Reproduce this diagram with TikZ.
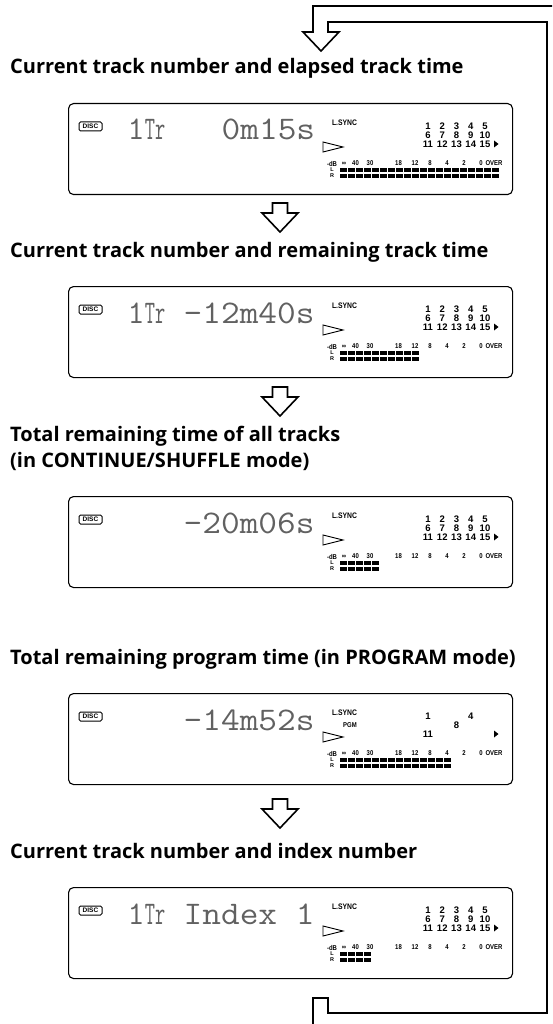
\documentclass[tikz,border=0pt]{standalone}
\usepackage{fontspec}
\newfontfamily\hfont{Open Sans}
\newfontfamily\lfont{Liberation Sans}
\tikzset{
 panel/.style={draw, line width=1.1pt, rounded corners=5pt, minimum width=444pt, minimum height=91pt, inner sep=0pt, anchor=north west},
 hd/.style={anchor=base west, inner sep=0pt, font=\hfont\bfseries\fontsize{20}{24}\selectfont},
 lcd/.style={anchor=base, inner sep=0pt, text=black!62, font=\ttfamily\fontsize{33}{33}\selectfont},
 lcdw/.style={lcd, anchor=base west},
 num/.style={inner sep=0pt, font=\lfont\bfseries\fontsize{9.5}{9.5}\selectfont},
 lbl/.style={inner sep=0pt, font=\lfont\bfseries\fontsize{7}{7}\selectfont},
 sync/.style={inner sep=0pt, font=\lfont\bfseries\fontsize{8}{8}\selectfont},
 disc/.style={draw, line width=1pt, rounded corners=1.5pt, minimum width=23pt, minimum height=9pt, inner sep=0pt, font=\lfont\bfseries\fontsize{6.5}{6.5}\selectfont},
 arr/.style={draw, line width=1.6pt, line join=miter, fill=white},
 loopline/.style={draw, line width=1.6pt, line join=miter},
}
\newcommand\lcdcommon[1]{%
  \node[disc] (#1disc) at (90.5,23.5) {DISC};
  \node[sync] (#1sync) at (344.5,19.5) {\scalebox{0.85}[1]{L.SYNC}};
  \draw[line width=0.9pt, line join=miter] (323,39) -- (343,44) -- (323,49) -- cycle;
  \foreach \x/\t [count=\i] in {332/-dB,344/∞,355.5/40,370/30,398.5/18,415/12,430/8,447/4,464/2,481/0,494/OVER}
    \node[lbl] (#1m\i) at (\x,60.5) {\scalebox{0.85}[1]{\t}};
  \node[lbl, font=\lfont\bfseries\fontsize{5.5}{5.5}\selectfont] (#1L) at (332,67) {L};
  \node[lbl, font=\lfont\bfseries\fontsize{5.5}{5.5}\selectfont] (#1R) at (332,73) {R};
}
\newcommand\meterbars[1]{%
  \foreach \k in {1,...,#1} {
    \fill (332+8*\k,65) rectangle ++(6.8,4);
    \fill (332+8*\k,71) rectangle ++(6.8,4);
  }
}
\newcommand\fullgrid[1]{%
  \foreach \n [count=\i from 0] in {1,2,3,4,5} \node[num] (#1a\i) at (428+14.25*\i,23) {\n};
  \foreach \n [count=\i from 0] in {6,7,8,9,10} \node[num] (#1b\i) at (428+14.25*\i,32) {\n};
  \foreach \n [count=\i from 0] in {11,12,13,14,15} \node[num] (#1c\i) at (428+14.25*\i,41) {\n};
  \fill (494,37.5) -- (498.5,41) -- (494,44.5) -- cycle;
}
\newcommand\hollowarrow[2]{%
  \draw[arr] (#1-7.5,#2) -- (#1+7.5,#2) -- (#1+7.5,#2+10) -- (#1+18,#2+10) -- (#1,#2+29) -- (#1-18,#2+10) -- (#1-7.5,#2+10) -- cycle;
}
\begin{document}
\begin{tikzpicture}[x=1pt,y=-1pt]
\useasboundingbox (0,0) rectangle (552,1024);

% loop arrow
\begin{scope}
  \clip (0,0) rectangle (552,1024);
  \draw[loopline] (313,998) -- (328,998) -- (328,1013) -- (547,1013) -- (547,22) -- (328,22) -- (328,32) -- (339,32) -- (321,51) -- (303,32) -- (313,32) -- (313,6) -- (562,6) -- (562,1029) -- (313,1029) -- cycle;
\end{scope}

% ---------- panel 1
\node[hd] (h1) at (10,74) {Current track number and elapsed track time};
\node[panel] (p1) at (68,103) {};
\begin{scope}[shift={(0,103)}]
  \lcdcommon{p1}
  \fullgrid{p1}
  \meterbars{20}
  \node[lcd] (p1t0) at (136,37) {1};
  \node[lcd] (p1t1) at (155,37) {\scalebox{0.6}[1]{Tr}};
  \node[lcdw] (p1t2) at (221.5,37) {\scalebox{1.1}[1]{0m15s}};
\end{scope}
\hollowarrow{280}{203}

% ---------- panel 2
\node[hd] (h2) at (10,257) {Current track number and remaining track time};
\node[panel] (p2) at (68,286) {};
\begin{scope}[shift={(0,286)}]
  \lcdcommon{p2}
  \fullgrid{p2}
  \meterbars{10}
  \node[lcd] (p2t0) at (136,37) {1};
  \node[lcd] (p2t1) at (155,37) {\scalebox{0.6}[1]{Tr}};
  \node[lcdw] (p2t2) at (183.5,37) {\scalebox{1.1}[1]{-12m40s}};
\end{scope}
\hollowarrow{280}{387}

% ---------- panel 3
\node[hd] (h3a) at (10,441) {Total remaining time of all tracks};
\node[hd] (h3b) at (10,467) {(in CONTINUE/SHUFFLE mode)};
\node[panel] (p3) at (68,496) {};
\begin{scope}[shift={(0,496)}]
  \lcdcommon{p3}
  \fullgrid{p3}
  \meterbars{5}
  \node[lcdw] (p3t2) at (183.5,37) {\scalebox{1.1}[1]{-20m06s}};
\end{scope}

% ---------- panel 4
\node[hd] (h4) at (10,664) {Total remaining program time (in PROGRAM mode)};
\node[panel] (p4) at (68,693) {};
\begin{scope}[shift={(0,693)}]
  \lcdcommon{p4}
  \node[lbl] (p4pgm) at (350,32) {\scalebox{0.85}[1]{PGM}};
  \node[num] (p4n1) at (428,23) {1};
  \node[num] (p4n4) at (470.75,23) {4};
  \node[num] (p4n8) at (456.5,32) {8};
  \node[num] (p4n11) at (428,41) {11};
  \fill (494,37.5) -- (498.5,41) -- (494,44.5) -- cycle;
  \meterbars{14}
  \node[lcdw] (p4t2) at (183.5,37) {\scalebox{1.1}[1]{-14m52s}};
\end{scope}
\hollowarrow{280}{799}

% ---------- panel 5
\node[hd] (h5) at (10,858) {Current track number and index number};
\node[panel] (p5) at (68,887) {};
\begin{scope}[shift={(0,887)}]
  \lcdcommon{p5}
  \fullgrid{p5}
  \meterbars{4}
  \node[lcd] (p5t0) at (136,37) {1};
  \node[lcd] (p5t1) at (155,37) {\scalebox{0.6}[1]{Tr}};
  \node[lcdw] (p5t2) at (183.5,37) {\scalebox{1.1}[1]{Index 1}};
\end{scope}
\end{tikzpicture}
\end{document}
